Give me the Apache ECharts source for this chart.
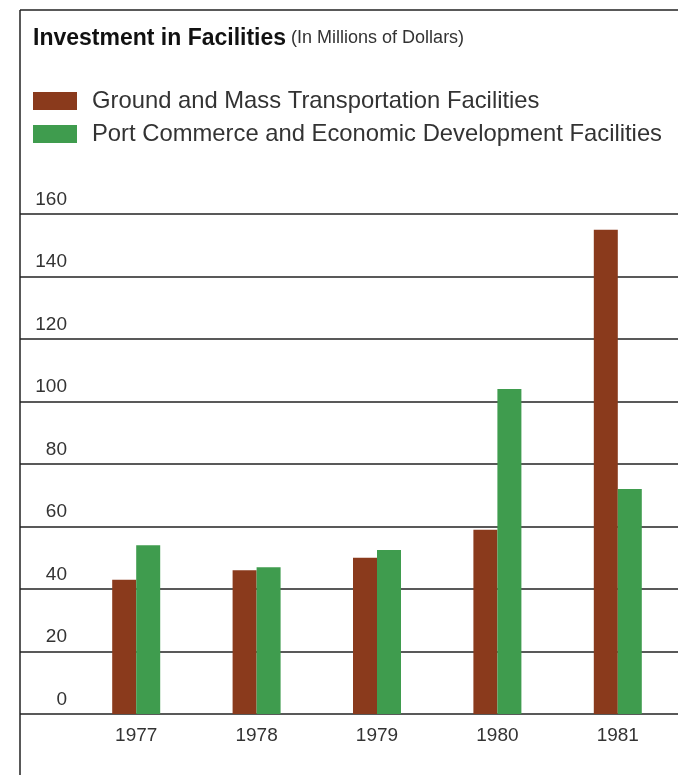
<!DOCTYPE html>
<html>
<head>
<meta charset="utf-8">
<script src="https://cdn.jsdelivr.net/npm/echarts@6/dist/echarts.min.js"></script>
<style>
html,body{margin:0;padding:0;background:#fff;}
#chart{width:678px;height:775px;}
</style>
</head>
<body>
<div id="chart"></div>
<script>
const years = ['1977', '1978', '1979', '1980', '1981'];
const groundTransport = [43, 46, 50, 59, 155];
const portCommerce = [54, 47, 52.5, 104, 72];
const yTicks = [0, 20, 40, 60, 80, 100, 120, 140, 160];
const seriesNames = ['Ground and Mass Transportation Facilities', 'Port Commerce and Economic Development Facilities'];
const titleMain = 'Investment in Facilities';
const titleSub = '(In Millions of Dollars)';

const FONT = '"Liberation Sans", Arial, Helvetica, sans-serif';
const BROWN = '#8a3a1c';
const GREEN = '#3f9c4e';

const chart = echarts.init(document.getElementById('chart'));
chart.setOption({
  backgroundColor: '#fff',
  animation: false,
  title: {
    left: 33, top: 27, padding: 0,
    text: '{b|' + titleMain + '} {s|' + titleSub + '}',
    textStyle: {
      rich: {
        b: { fontFamily: FONT, fontWeight: 'bold', fontSize: 23, color: '#111' },
        s: { fontFamily: FONT, fontWeight: 'normal', fontSize: 18, color: '#333' }
      }
    }
  },
  legend: {
    orient: 'vertical', left: 33, top: 89, padding: 0,
    itemWidth: 44, itemHeight: 18, itemGap: 9,
    icon: 'rect',
    textStyle: { fontFamily: FONT, fontSize: 23.8, color: '#333', padding: [0, 0, 0, 10] },
    data: seriesNames
  },
  grid: [
    { left: 20, right: 0, top: 214, bottom: 61 },
    { left: 76, right: -1, top: 214, bottom: 61 }
  ],
  xAxis: [
    { gridIndex: 0, type: 'value', show: false, min: 0, max: 1 },
    {
      gridIndex: 1, type: 'category', data: years,
      axisLine: { show: false }, axisTick: { show: false },
      axisLabel: { fontFamily: FONT, fontSize: 19, color: '#333', margin: 12 }
    }
  ],
  yAxis: [
    {
      gridIndex: 0, type: 'value', min: yTicks[0], max: yTicks[yTicks.length - 1], interval: 20,
      axisLine: { show: false }, axisTick: { show: false },
      splitLine: { show: true, lineStyle: { color: '#222', width: 1.5 } },
      axisLabel: {
        inside: true, margin: 47, align: 'right', verticalAlign: 'bottom',
        padding: [0, 0, 5, 0],
        fontFamily: FONT, fontSize: 19, color: '#333'
      }
    },
    {
      gridIndex: 1, type: 'value', min: yTicks[0], max: yTicks[yTicks.length - 1], interval: 20, show: false,
      splitLine: { show: false }
    }
  ],
  series: [
    {
      name: seriesNames[0], type: 'bar', xAxisIndex: 1, yAxisIndex: 1,
      data: groundTransport, barWidth: 24, barGap: '0%',
      itemStyle: { color: BROWN }
    },
    {
      name: seriesNames[1], type: 'bar', xAxisIndex: 1, yAxisIndex: 1,
      data: portCommerce, barWidth: 24, barGap: '0%',
      itemStyle: { color: GREEN }
    }
  ],
  graphic: [
    { type: 'line', shape: { x1: 20, y1: 10, x2: 678, y2: 10 }, style: { stroke: '#222', lineWidth: 1.5 } },
    { type: 'line', shape: { x1: 20, y1: 10, x2: 20, y2: 775 }, style: { stroke: '#222', lineWidth: 1.5 } }
  ]
});
</script>
</body>
</html>
